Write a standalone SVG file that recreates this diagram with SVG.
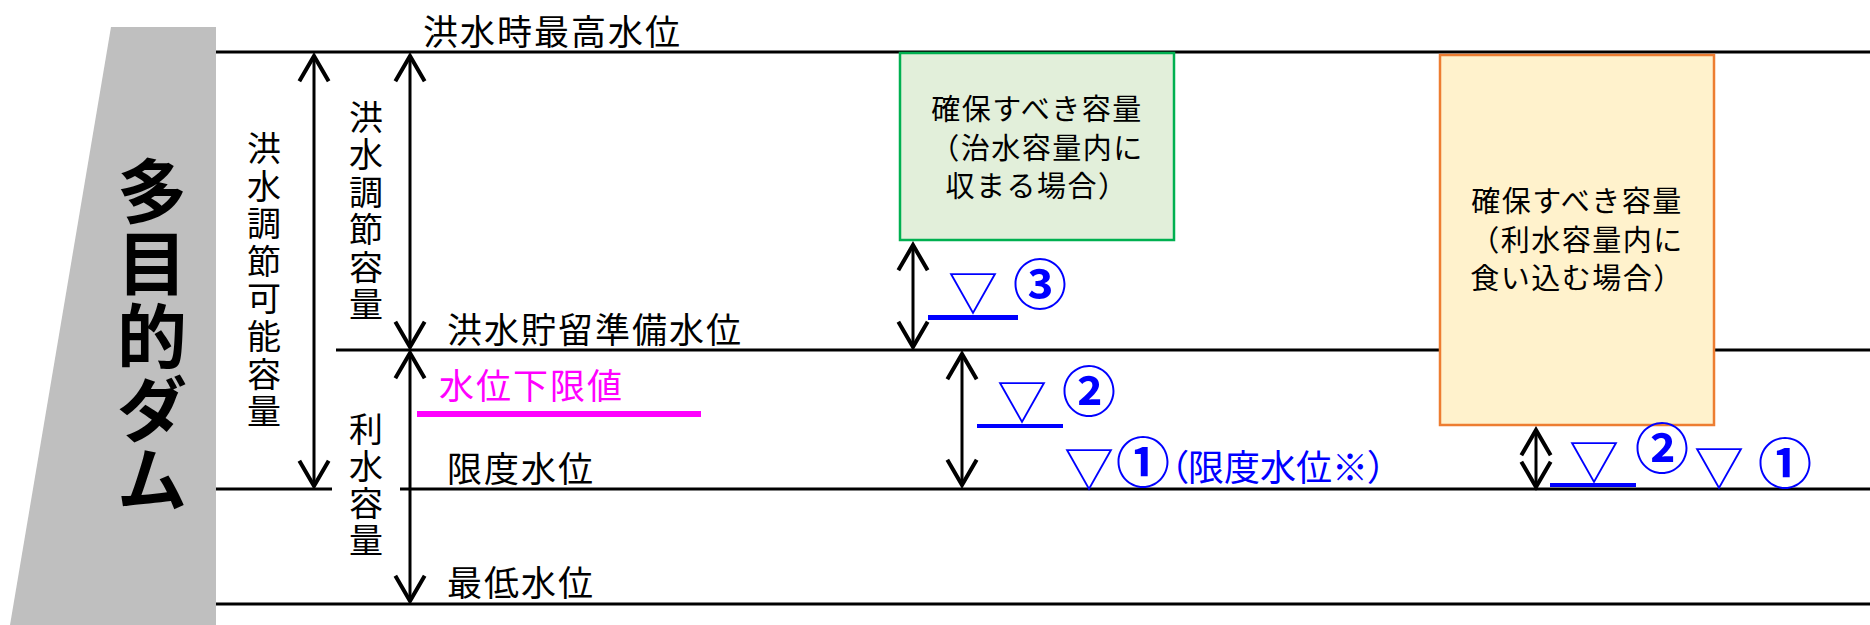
<svg xmlns="http://www.w3.org/2000/svg" width="1870" height="625" viewBox="0 0 1870 625">
<style>
.t{font-family:"Noto Sans CJK JP","Noto Sans",sans-serif;fill:#000}
.lbl{font-size:35px;letter-spacing:2px}
.vt{font-size:34px;text-anchor:middle}
.bx{font-size:29px;text-anchor:middle;letter-spacing:1.5px}
.big{font-size:70px;font-weight:bold;text-anchor:middle}
.blue{fill:#0000ff}
.tri{font-size:50px}
.cd{font-size:54px;font-weight:bold;text-anchor:middle}
.lvl{stroke:#000;stroke-width:3;fill:none}
.arr{stroke:#000;stroke-width:3;fill:none;marker-start:url(#ah);marker-end:url(#ah)}
</style>
<defs>
<marker id="ah" markerUnits="userSpaceOnUse" orient="auto-start-reverse" refX="0" refY="0" markerWidth="40" markerHeight="40" viewBox="-25 -15 30 30" overflow="visible">
<path d="M-19,-11 L0,0 L-19,11" fill="none" stroke="#000" stroke-width="3"/>
</marker>
</defs>
<g id="dam">
<polygon points="111,27 216,27 216,625 10,625" fill="#bfbfbf"/>
<text class="t big" x="152" y="218">多</text>
<text class="t big" x="152" y="290">目</text>
<text class="t big" x="152" y="363">的</text>
<text class="t big" x="152" y="436">ダ</text>
<text class="t big" x="152" y="506">ム</text>
</g>
<g id="levels">
<line class="lvl" x1="216" y1="52" x2="1870" y2="52"/>
<line class="lvl" x1="336" y1="350" x2="1870" y2="350"/>
<line class="lvl" x1="216" y1="489" x2="332" y2="489"/>
<line class="lvl" x1="400" y1="489" x2="1870" y2="489"/>
<line class="lvl" x1="216" y1="604" x2="1870" y2="604"/>
<line x1="417" y1="414" x2="701" y2="414" stroke="#ff00ff" stroke-width="6"/>
</g>
<g id="labels">
<text class="t lbl" x="423" y="45">洪水時最高水位</text>
<text class="t lbl" x="447" y="343">洪水貯留準備水位</text>
<text class="t lbl" x="439" y="399" style="fill:#ff00ff">水位下限値</text>
<text class="t lbl" x="447" y="482">限度水位</text>
<text class="t lbl" x="447" y="596">最低水位</text>
</g>
<g id="vertical-labels">
<text class="t vt"><tspan x="264" y="161">洪</tspan><tspan x="264" y="198.6">水</tspan><tspan x="264" y="236.2">調</tspan><tspan x="264" y="273.8">節</tspan><tspan x="264" y="311.4">可</tspan><tspan x="264" y="349">能</tspan><tspan x="264" y="386.6">容</tspan><tspan x="264" y="424.2">量</tspan></text>
<text class="t vt"><tspan x="366" y="130">洪</tspan><tspan x="366" y="167.4">水</tspan><tspan x="366" y="204.8">調</tspan><tspan x="366" y="242.2">節</tspan><tspan x="366" y="279.6">容</tspan><tspan x="366" y="317">量</tspan></text>
<text class="t vt"><tspan x="366" y="442">利</tspan><tspan x="366" y="479">水</tspan><tspan x="366" y="516">容</tspan><tspan x="366" y="553">量</tspan></text>
</g>
<g id="box-flood">
<rect x="900" y="53" width="274" height="187" fill="#e2efda" stroke="#00b050" stroke-width="2.5"/>
<text class="t bx"><tspan x="1037" y="120">確保すべき容量</tspan><tspan x="1037" y="159">（治水容量内に</tspan><tspan x="1037" y="197">収まる場合）</tspan></text>
</g>
<g id="box-water">
<rect x="1440" y="55" width="274" height="370" fill="#fff2cc" stroke="#ed7d31" stroke-width="2.5"/>
<text class="t bx"><tspan x="1577" y="212">確保すべき容量</tspan><tspan x="1577" y="251">（利水容量内に</tspan><tspan x="1577" y="289">食い込む場合）</tspan></text>
</g>
<g id="connectors">
<line class="arr" x1="314" y1="56" x2="314" y2="486"/>
<line class="arr" x1="410" y1="56" x2="410" y2="347"/>
<line class="arr" x1="410" y1="353" x2="410" y2="601"/>
<line class="arr" x1="913" y1="245" x2="913" y2="347"/>
<line class="arr" x1="962" y1="354" x2="962" y2="485"/>
<line class="arr" x1="1536" y1="430" x2="1536" y2="487"/>
</g>
<g id="marks">
<rect x="928" y="315" width="90" height="5" fill="#0000ff"/>
<text class="t blue tri" x="948" y="311">▽</text>
<text class="t blue cd" x="1040" y="305">③</text>
<rect x="977" y="424" width="86" height="4" fill="#0000ff"/>
<text class="t blue tri" x="997" y="420">▽</text>
<text class="t blue cd" x="1089" y="412">②</text>
<text class="t blue tri" x="1064" y="487">▽</text>
<text class="t blue cd" x="1143" y="483">①</text>
<text class="t blue" x="1170" y="481" font-size="36" style="font-feature-settings:'palt'">（限度水位※）</text>
<rect x="1550" y="483" width="86" height="4" fill="#0000ff"/>
<text class="t blue tri" x="1569" y="480">▽</text>
<text class="t blue cd" x="1662" y="469">②</text>
<text class="t blue tri" x="1694" y="486">▽</text>
<text class="t blue cd" x="1785" y="484">①</text>
</g>
</svg>
